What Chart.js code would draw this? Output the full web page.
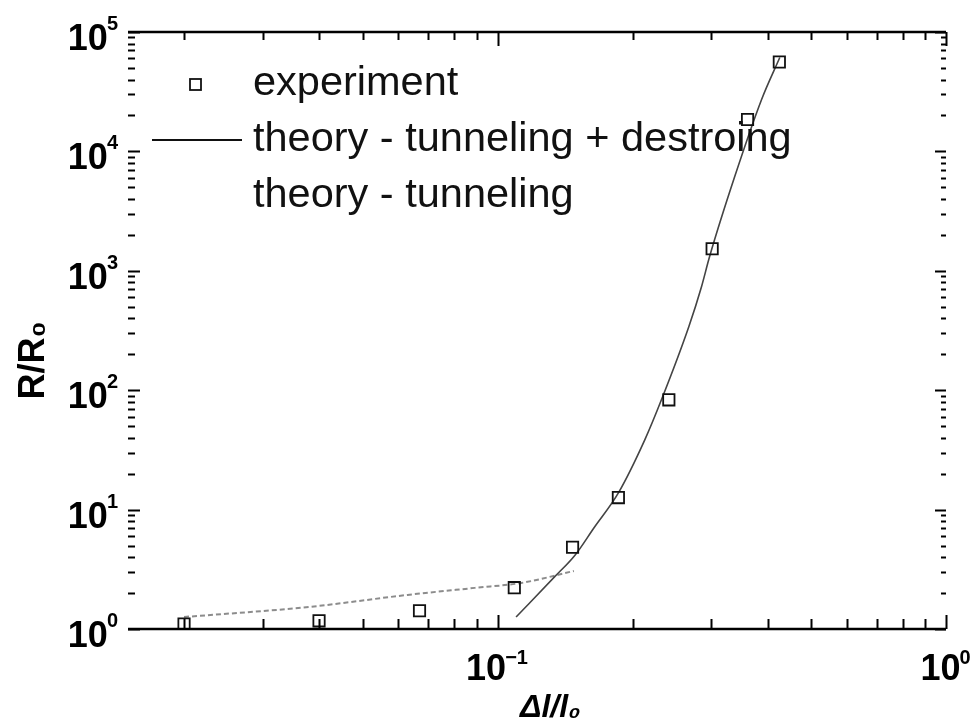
<!DOCTYPE html>
<html>
<head>
<meta charset="utf-8">
<script src="https://cdn.jsdelivr.net/npm/chart.js@4.4.1/dist/chart.umd.min.js"></script>
<style>
  html, body { margin: 0; padding: 0; background: #fff; }
  #wrap { width: 973px; height: 724px; }
</style>
</head>
<body>
<div id="wrap"><canvas id="myChart" width="973" height="724"></canvas></div>
<script>
// Meetpunten (experiment)
const EXP_X = [0.020, 0.040, 0.067, 0.109, 0.147, 0.186, 0.241, 0.301, 0.361, 0.425];
const EXP_Y = [1.10, 1.17, 1.42, 2.22, 4.84, 12.6, 83, 1530, 18500, 56000];

// Theorie: tunneling + destroying
const TD_X = [0.110, 0.134, 0.149, 0.164, 0.186, 0.213, 0.232, 0.267, 0.285, 0.297, 0.338, 0.388, 0.426];
const TD_Y = [1.26, 2.73, 4.17, 7.02, 13.8, 38.4, 83.1, 340, 736, 1310, 6150, 27200, 61100];

// Theorie: alleen tunneling
const T_X = [0.020, 0.038, 0.063, 0.089, 0.113, 0.148];
const T_Y = [1.26, 1.53, 1.93, 2.21, 2.43, 3.06];

// Labels
const SERIES_LABELS = ['experiment', 'theory - tunneling + destroing', 'theory - tunneling'];
const X_TICK_VALUES = [0.1, 1];
const X_TICK_EXP = ['\u22121', '0'];
const Y_TICK_VALUES = [1, 10, 100, 1000, 10000, 100000];
const Y_TICK_EXP = ['0', '1', '2', '3', '4', '5'];

const FONT = '"Liberation Sans", Arial, Helvetica, sans-serif';
const BASE_FONT = 'bold 36px ' + FONT;
const EXP_FONT = 'bold 20px ' + FONT;

function toPoints(xs, ys) {
    return xs.map((x, i) => ({ x: x, y: ys[i] }));
}

function logTicks(min, max) {
    const out = [];
    for (let e = Math.floor(Math.log10(min)); e <= Math.ceil(Math.log10(max)); e++) {
        for (let m = 1; m <= 9; m++) {
            const v = m * Math.pow(10, e);
            if (v >= min * 0.999 && v <= max * 1.001) out.push({ v: v, major: m === 1 });
        }
    }
    return out;
}

// Kader (boven/onder) en naar binnen gerichte ticks op alle vier zijden
const frameTicks = {
    id: 'frameTicks',
    afterDraw(chart) {
        const ctx = chart.ctx;
        const a = chart.chartArea;
        const xs = chart.scales.x;
        const ys = chart.scales.y;
        ctx.save();
        ctx.strokeStyle = '#000';
        ctx.lineWidth = 2.5;
        ctx.beginPath();
        ctx.moveTo(a.left, a.top); ctx.lineTo(a.right, a.top);
        ctx.moveTo(a.left, a.bottom); ctx.lineTo(a.right, a.bottom);
        ctx.stroke();

        ctx.lineWidth = 2;
        ctx.beginPath();
        logTicks(xs.min, xs.max).forEach(t => {
            const px = Math.round(xs.getPixelForValue(t.v)) + 0.5;
            ctx.moveTo(px, a.bottom); ctx.lineTo(px, a.bottom - (t.major ? 14 : 10));
            ctx.moveTo(px, a.top); ctx.lineTo(px, a.top + (t.major ? 14 : 8));
        });
        logTicks(ys.min, ys.max).forEach(t => {
            const py = Math.round(ys.getPixelForValue(t.v)) + 0.5;
            ctx.moveTo(a.left, py); ctx.lineTo(a.left + (t.major ? 12 : 7), py);
            ctx.moveTo(a.right, py); ctx.lineTo(a.right - (t.major ? 11 : 5), py);
        });
        ctx.stroke();
        ctx.restore();
    }
};

// Decade-labels "10" met verhoogde exponent
const powerLabels = {
    id: 'powerLabels',
    afterDraw(chart) {
        const ctx = chart.ctx;
        const a = chart.chartArea;
        const xs = chart.scales.x;
        const ys = chart.scales.y;
        ctx.save();
        ctx.fillStyle = '#000';
        ctx.textBaseline = 'alphabetic';
        ctx.textAlign = 'left';

        Y_TICK_VALUES.forEach((v, i) => {
            const py = ys.getPixelForValue(v);
            ctx.font = EXP_FONT;
            const we = ctx.measureText(Y_TICK_EXP[i]).width;
            const right = a.left - 10;
            ctx.fillText(Y_TICK_EXP[i], right - we, py - 2);
            ctx.font = BASE_FONT;
            const wb = ctx.measureText('10').width;
            ctx.fillText('10', right - we - wb + 1, py + 18);
        });

        X_TICK_VALUES.forEach((v, i) => {
            const px = xs.getPixelForValue(v);
            ctx.font = EXP_FONT;
            const we = ctx.measureText(X_TICK_EXP[i]).width;
            ctx.font = BASE_FONT;
            const wb = ctx.measureText('10').width;
            const left = px - (wb + we) / 2;
            ctx.fillText('10', left, a.bottom + 51);
            ctx.font = EXP_FONT;
            ctx.fillText(X_TICK_EXP[i], left + wb - 1, a.bottom + 35);
        });
        ctx.restore();
    }
};

// Legenda linksboven in het plotvlak
const insideLegend = {
    id: 'insideLegend',
    afterDraw(chart) {
        const ctx = chart.ctx;
        const a = chart.chartArea;
        const rows = [84, 140, 196];
        ctx.save();
        ctx.font = '41.5px ' + FONT;
        ctx.fillStyle = '#111';
        ctx.textBaseline = 'middle';
        ctx.textAlign = 'left';
        chart.data.datasets.forEach((ds, i) => {
            const y = rows[i];
            if (i === 0) {
                ctx.strokeStyle = '#111';
                ctx.lineWidth = 1.8;
                ctx.strokeRect(a.left + 62, y - 5, 11, 11);
            } else if (i === 1) {
                ctx.strokeStyle = '#111';
                ctx.lineWidth = 2;
                ctx.beginPath();
                ctx.moveTo(a.left + 24, y); ctx.lineTo(a.left + 114, y);
                ctx.stroke();
            }
            ctx.fillText(ds.label, a.left + 125, y);
        });
        ctx.restore();
    }
};

const ctx = document.getElementById('myChart');

const chart = new Chart(ctx, {
    type: 'scatter',
    data: {
        datasets: [
            {
                label: SERIES_LABELS[0],
                data: toPoints(EXP_X, EXP_Y),
                showLine: false,
                pointStyle: 'rect',
                pointRadius: 8,
                pointBorderWidth: 1.8,
                pointBorderColor: '#111',
                pointBackgroundColor: 'rgba(255,255,255,0)'
            },
            {
                label: SERIES_LABELS[1],
                data: toPoints(TD_X, TD_Y),
                showLine: true,
                pointRadius: 0,
                borderColor: '#444',
                borderWidth: 1.6,
                cubicInterpolationMode: 'monotone'
            },
            {
                label: SERIES_LABELS[2],
                data: toPoints(T_X, T_Y),
                showLine: true,
                pointRadius: 0,
                borderColor: '#8c8c8c',
                borderWidth: 2,
                borderDash: [5, 3],
                cubicInterpolationMode: 'monotone'
            }
        ]
    },
    options: {
        responsive: false,
        animation: false,
        devicePixelRatio: 1,
        layout: { padding: { top: 32, right: 27, left: 0, bottom: 0 } },
        plugins: {
            legend: { display: false },
            tooltip: { enabled: false }
        },
        scales: {
            x: {
                type: 'logarithmic',
                position: 'bottom',
                min: 0.015,
                max: 1,
                grid: { display: false, drawTicks: false },
                border: { display: false },
                ticks: { display: false },
                title: {
                    display: true,
                    text: '   \u0394l/l\u2080',
                    color: '#000',
                    font: { family: FONT, size: 32, weight: 'bold', style: 'italic', lineHeight: 1 },
                    padding: { top: 0, bottom: 0 }
                },
                afterFit(scale) { scale.height = 95; scale.paddingLeft = 0; scale.paddingRight = 0; }
            },
            y: {
                type: 'logarithmic',
                position: 'left',
                min: 1,
                max: 100000,
                grid: { display: false, drawTicks: false },
                border: { display: false },
                ticks: { display: false },
                title: {
                    display: true,
                    text: 'R/R\u2080      ',
                    color: '#000',
                    font: { family: FONT, size: 36, weight: 'bold', lineHeight: 1 },
                    padding: { top: 16, bottom: 0 }
                },
                afterFit(scale) { scale.width = 128; }
            }
        }
    },
    plugins: [frameTicks, powerLabels, insideLegend]
});
</script>
</body>
</html>
